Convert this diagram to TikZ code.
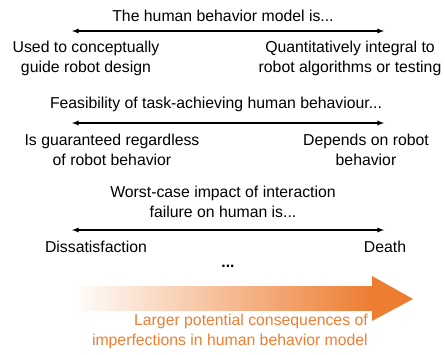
\documentclass[tikz,border=0pt]{standalone}
\usepackage{fontspec}
\setmainfont{Liberation Sans}
\usetikzlibrary{positioning}

\definecolor{conseqorange}{RGB}{237,125,49}

\begin{document}
\begin{tikzpicture}[
    x=1pt, y=-1pt,
    >=latex, % arrow style
    lbl/.style={align=center, font=\fontsize{15.8}{20}\selectfont, inner sep=0pt},
    ]

    % --- canvas ---
    \useasboundingbox (0,0) rectangle (445,355);

    % --- scale 1: role of the model ---
    \node[lbl] (title1) at (223,16) {The human behavior model is...};
    \coordinate (left1) at (72,31);
    \coordinate (right1) at (384,31);
    \draw[<->, line width=1.3pt] (left1) -- (right1);
    \node[lbl] (lo1) at (86,58) {Used to conceptually\\guide robot design};
    \node[lbl] (hi1) at (350,58) {Quantitatively integral to\\robot algorithms or testing};

    % --- scale 2: feasibility ---
    \node[lbl] (title2) at (216,104) {Feasibility of task-achieving human behaviour...};
    \coordinate (left2) at (72,123);
    \coordinate (right2) at (384,123);
    \draw[<->, line width=1.3pt] (left2) -- (right2);
    \node[lbl] (lo2) at (112,150) {Is guaranteed regardless\\of robot behavior};
    \node[lbl] (hi2) at (366,150) {Depends on robot\\behavior};

    % --- scale 3: worst-case impact ---
    \node[lbl] (title3) at (223,202) {Worst-case impact of interaction\\failure on human is...};
    \coordinate (left3) at (72,230);
    \coordinate (right3) at (384,230);
    \draw[<->, line width=1.3pt] (left3) -- (right3);
    \node[lbl] (lo3) at (96,247) {Dissatisfaction};
    \node[lbl] (hi3) at (385,247) {Death};

    % more scales
    \node[lbl, font=\fontsize{15.8}{20}\selectfont\bfseries] (more) at (228,266) {...};

    % --- consequence arrow ---
    \shade[left color=white, right color=conseqorange] (70,287) rectangle (373,311);
    \fill[conseqorange] (372,276) -- (413,299) -- (372,321) -- cycle;
    \node[lbl, text=conseqorange, align=right, anchor=north east] (conseq) at (368,314)
        {Larger potential consequences of\\imperfections in human behavior model};

\end{tikzpicture}
\end{document}
